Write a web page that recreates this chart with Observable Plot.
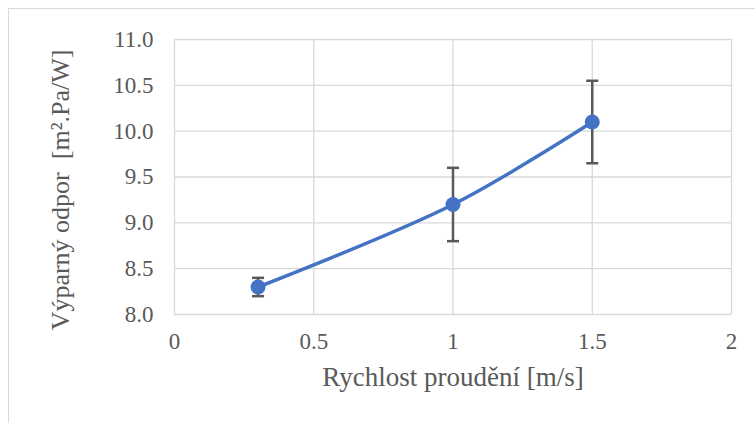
<!DOCTYPE html>
<html>
<head>
<meta charset="utf-8">
<script src="https://cdn.jsdelivr.net/npm/d3@7"></script>
<script src="https://cdn.jsdelivr.net/npm/@observablehq/plot@0.6"></script>
<style>
  body { margin: 0; background: #fff; }
  #wrap { position: relative; width: 755px; height: 423px; overflow: hidden; }
  #border { position: absolute; left: 8px; top: 8px; width: 800px; height: 500px; border: 1px solid #d9d9d9; }
  #chart { position: absolute; left: 0; top: 0; }
  #chart svg, #chart svg text { font-family: "Liberation Serif", serif !important; font-variant: normal !important; }
</style>
</head>
<body>
<div id="wrap"><div id="border"></div><div id="chart"></div></div>
<script>
const speeds = [0.3, 1.0, 1.5];
const resistance = [8.3, 9.2, 10.1];
const errMinus = [0.1, 0.4, 0.45];
const errPlus = [0.1, 0.4, 0.45];
const xTicks = [0, 0.5, 1, 1.5, 2];
const yTicks = [8.0, 8.5, 9.0, 9.5, 10.0, 10.5, 11.0];
const xLabel = "Rychlost proudění [m/s]";
const yLabel = "Výparný odpor  [m².Pa/W]";

const data = speeds.map((x, i) => ({
  x, y: resistance[i], lo: resistance[i] - errMinus[i], hi: resistance[i] + errPlus[i]
}));

const capSymbol = {
  draw(context) { context.moveTo(-6, 0); context.lineTo(6, 0); }
};
const ff = "Liberation Serif";

const chart = Plot.plot({
  width: 755,
  height: 423,
  marginLeft: 174,
  marginRight: 24,
  marginTop: 39,
  marginBottom: 109,
  style: { background: "transparent", color: "#595959", fontFamily: ff },
  x: { domain: [0, 2] },
  y: { domain: [8, 11] },
  marks: [
    Plot.gridX(xTicks, { stroke: "#d9d9d9", strokeOpacity: 1, strokeWidth: 1.3 }),
    Plot.gridY(yTicks, { stroke: "#d9d9d9", strokeOpacity: 1, strokeWidth: 1.3 }),
    Plot.axisX(xTicks, { tickFormat: d => String(d), tickSize: 0, tickPadding: 18, fontSize: 23, fontFamily: ff, fontVariant: "normal", fill: "#595959", label: null }),
    Plot.axisY(yTicks, { tickFormat: d => d.toFixed(1), tickSize: 0, tickPadding: 21, fontSize: 23, fontFamily: ff, fontVariant: "normal", fill: "#595959", label: null }),
    Plot.text([xLabel], { text: d => d, frameAnchor: "bottom", dy: 71, fontSize: 27, fontFamily: ff, fill: "#595959" }),
    Plot.text([yLabel], { text: d => d, frameAnchor: "left", textAnchor: "middle", rotate: -90, dx: -114, dy: 13, fontSize: 26, fontFamily: ff, fill: "#595959" }),
    Plot.ruleX(data, { x: "x", y1: "lo", y2: "hi", stroke: "#595959", strokeWidth: 2.5 }),
    Plot.dot(data, { x: "x", y: "lo", symbol: capSymbol, stroke: "#595959", strokeWidth: 2.5, r: 6 }),
    Plot.dot(data, { x: "x", y: "hi", symbol: capSymbol, stroke: "#595959", strokeWidth: 2.5, r: 6 }),
    Plot.line(data, { x: "x", y: "y", stroke: "#4472C4", strokeWidth: 3.5, curve: "catmull-rom" }),
    Plot.dot(data, { x: "x", y: "y", fill: "#4472C4", r: 7.5 })
  ]
});
document.getElementById("chart").appendChild(chart);
</script>
</body>
</html>
